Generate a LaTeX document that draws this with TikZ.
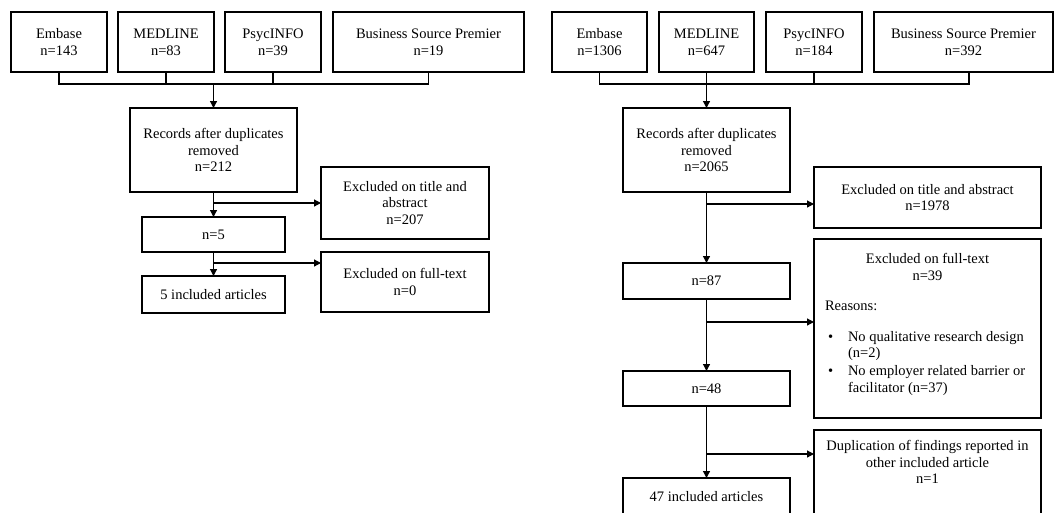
\documentclass[tikz,border=0pt]{standalone}
\usepackage{fontspec}
\setmainfont{Liberation Serif}
\usetikzlibrary{positioning, arrows.meta, calc}

\begin{document}
\begin{tikzpicture}[
    x=1pt, y=1pt,
    font=\fontsize{14.5pt}{16.8pt}\selectfont,
    box/.style={rectangle, draw, line width=1.2pt, inner sep=2pt, outer sep=0pt, align=center},
    line/.style={line width=1.2pt},
    arrow/.style={line width=1.2pt, -{Triangle[length=7pt, width=7pt]}},
]
\clip (0,0) rectangle (1054,-512);

% first search
\node[box, minimum width=96pt, minimum height=60pt] (emb1) at (59,-42) {Embase\\n=143};
\node[box, minimum width=96pt, minimum height=60pt, right=11pt of emb1] (med1) {MEDLINE\\n=83};
\node[box, minimum width=96pt, minimum height=60pt, right=11pt of med1] (psy1) {PsycINFO\\n=39};
\node[box, minimum width=191pt, minimum height=60pt, right=12pt of psy1] (bus1) {Business Source Premier\\n=19};

\node[box, minimum width=167pt, minimum height=84pt] (rec1) at (213.5,-150) {Records after duplicates\\removed\\n=212};
\node[box, minimum width=143pt, minimum height=35pt, below=25pt of rec1] (n5) {n=5};
\node[box, minimum width=143pt, minimum height=37pt, below=24pt of n5] (inc1) {5 included articles};

\node[box, minimum width=168pt, minimum height=72pt] (ta1) at (405,-203) {Excluded on title and\\abstract\\n=207};
\node[box, minimum width=168pt, minimum height=60pt, below=13pt of ta1] (ft1) {Excluded on full-text\\n=0};

\coordinate (brk1) at ($(emb1.south)+(0,-12)$);
\draw[line] (emb1.south) |- (brk1) -| (bus1.south);
\draw[line] (med1.south) -- (med1.south |- brk1);
\draw[line] (psy1.south) -- (psy1.south |- brk1);
\draw[arrow] (rec1.north |- brk1) -- (rec1.north);

\draw[arrow] (rec1.south) -- (n5.north);
\draw[arrow] (n5.south) -- (inc1.north);
\draw[arrow] (rec1.south |- ta1.west) -- (ta1.west);
\coordinate (ft1in) at ($(ft1.north west)+(0,-11)$);
\draw[arrow] (n5.south |- ft1in) -- (ft1in);

% second search
\node[box, minimum width=95pt, minimum height=60pt] (emb2) at (599.5,-42) {Embase\\n=1306};
\node[box, minimum width=95pt, minimum height=60pt, right=12pt of emb2] (med2) {MEDLINE\\n=647};
\node[box, minimum width=96pt, minimum height=60pt, right=12pt of med2] (psy2) {PsycINFO\\n=184};
\node[box, minimum width=179pt, minimum height=60pt, right=12pt of psy2] (bus2) {Business Source Premier\\n=392};

\node[box, minimum width=167pt, minimum height=84pt] (rec2) at (706.5,-150) {Records after duplicates\\removed\\n=2065};
\node[box, minimum width=167pt, minimum height=36pt, below=71pt of rec2] (n87) {n=87};
\node[box, minimum width=167pt, minimum height=35pt, below=72pt of n87] (n48) {n=48};
\node[box, minimum width=167pt, minimum height=37pt, below=72pt of n48] (inc2) {47 included articles};

\node[box, minimum width=227pt, minimum height=61pt] (ta2) at (927.5,-197.5) {Excluded on title and abstract\\n=1978};
\node[box, minimum width=227pt, minimum height=179pt, below=11pt of ta2] (ft2) {Excluded on full-text\\n=39\\[13pt]
  \parbox[t]{205pt}{\raggedright Reasons:\par\vspace{14pt}
  \hangindent=23pt\hangafter=1\makebox[23pt][l]{\hspace{3pt}\textbullet}No qualitative research design (n=2)\par
  \vspace{1pt}
  \hangindent=23pt\hangafter=1\makebox[23pt][l]{\hspace{3pt}\textbullet}No employer related barrier or facilitator (n=37)\par
  \vspace{8pt}}};
\node[box, minimum width=227pt, minimum height=86pt, text depth=22pt, below=12pt of ft2] (dup2) {Duplication of findings reported in\\other included article\\n=1};

\coordinate (brk2) at ($(emb2.south)+(0,-12)$);
\coordinate (bus2s) at ($(bus2.south)+(5.5,0)$);
\draw[line] (emb2.south) |- (brk2) -| (bus2s);
\draw[line] (psy2.south) -- (psy2.south |- brk2);
\draw[arrow] (med2.south) -- (rec2.north);

\draw[arrow] (rec2.south) -- (n87.north);
\draw[arrow] (n87.south) -- (n48.north);
\draw[arrow] (n48.south) -- (inc2.north);
\coordinate (ta2in) at ($(ta2.north west)+(0,-37)$);
\coordinate (ft2in) at ($(ft2.north west)+(0,-83)$);
\coordinate (dup2in) at ($(dup2.north west)+(0,-24)$);
\draw[arrow] (rec2.south |- ta2in) -- (ta2in);
\draw[arrow] (n87.south |- ft2in) -- (ft2in);
\draw[arrow] (n48.south |- dup2in) -- (dup2in);
\end{tikzpicture}
\end{document}
